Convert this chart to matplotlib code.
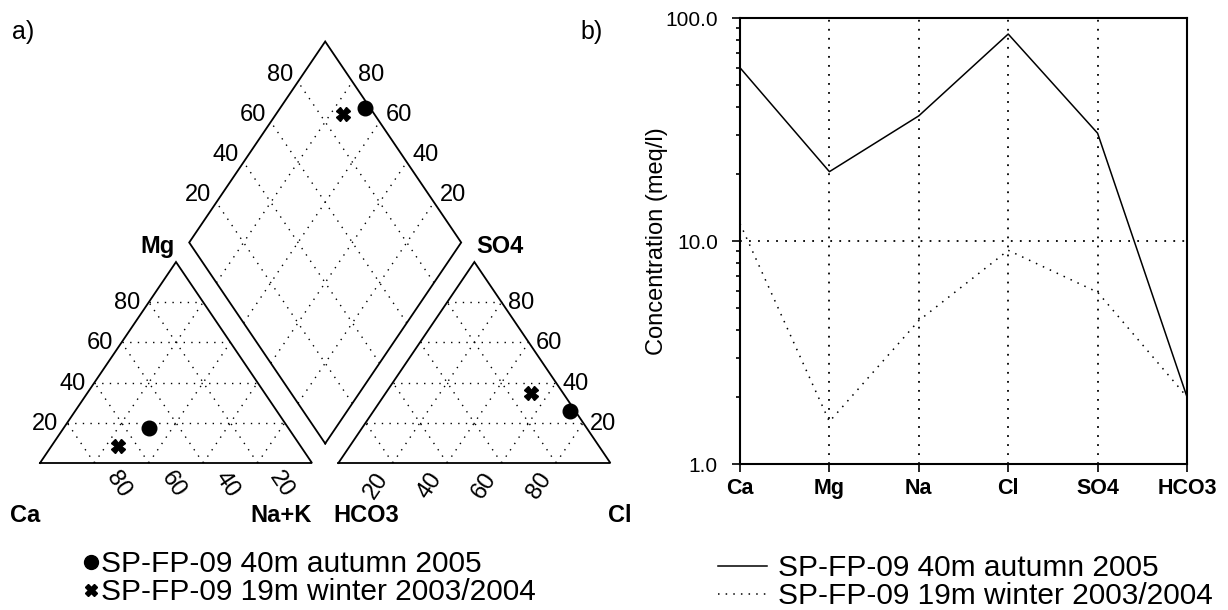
import numpy as np
import matplotlib
matplotlib.use("Agg")
import matplotlib.pyplot as plt
from matplotlib.lines import Line2D
from matplotlib.ticker import LogLocator, NullFormatter, FixedFormatter

plt.rcParams['font.family'] = ['Liberation Sans', 'DejaVu Sans']

# ---- data (meq/l) ----
ions = ["Ca", "Mg", "Na", "Cl", "SO4", "HCO3"]
autumn_2005 = [60.0, 20.5, 36.5, 85.0, 30.5, 2.0]
winter_2003 = [12.0, 1.55, 4.4, 9.1, 5.9, 2.0]
series_labels = ["SP-FP-09 40m autumn 2005", "SP-FP-09 19m winter 2003/2004"]
conc_ticks = [1.0, 10.0, 100.0]
tri_ticks = [20, 40, 60, 80]

W, H = 1228, 610
fig = plt.figure(figsize=(W / 100, H / 100), dpi=100)

# ---------------------------------------------------------------
# a) Piper diagram, model units: triangle side = 1, triangle height = 1
# ---------------------------------------------------------------
G = 0.097  # gap between the triangles and the diamond
ax = fig.add_axes([0, 0, 640 / W, 1])
ax.set_xlim(-40 / 272, 600 / 272)
ax.set_ylim(-147 / 201, 463 / 201)
ax.axis('off')

OX = 1 + G  # left corner of the anion triangle


def cation_xy(ca, mg, na):
    return na + 0.5 * mg, mg


def anion_xy(hco3, so4, cl):
    return OX + cl + 0.5 * so4, so4


def diamond_xy(na, hco3):
    t = 2 + G - na - hco3
    return na + 0.5 * t, t


outline = dict(color='black', lw=1.3, solid_joinstyle='miter', zorder=3)
grid_kw = dict(color='black', lw=1.0, linestyle=(0, (1, 4.5)), zorder=1)

# outlines
ax.plot([0, 1, 0.5, 0], [0, 0, 1, 0], **outline)
ax.plot([OX, OX + 1, OX + 0.5, OX], [0, 0, 1, 0], **outline)
B, R, T, L = diamond_xy(1, 1), diamond_xy(1, 0), diamond_xy(0, 0), diamond_xy(0, 1)
ax.plot([B[0], R[0], T[0], L[0], B[0]], [B[1], R[1], T[1], L[1], B[1]], **outline)

# grid lines
for t in tri_ticks:
    v = t / 100
    # cation triangle: Mg, Ca, Na
    ax.plot([0.5 * v, 1 - 0.5 * v], [v, v], **grid_kw)
    ax.plot([1 - v, 0.5 * (1 - v)], [0, 1 - v], **grid_kw)
    ax.plot([v, v + 0.5 * (1 - v)], [0, 1 - v], **grid_kw)
    # anion triangle: SO4, Cl, HCO3
    ax.plot([OX + 0.5 * v, OX + 1 - 0.5 * v], [v, v], **grid_kw)
    ax.plot([OX + v, OX + v + 0.5 * (1 - v)], [0, 1 - v], **grid_kw)
    ax.plot([OX + 1 - v, OX + 0.5 * (1 - v)], [0, 1 - v], **grid_kw)
    # diamond
    p0, p1 = diamond_xy(v, 1), diamond_xy(v, 0)
    ax.plot([p0[0], p1[0]], [p0[1], p1[1]], **grid_kw)
    p0, p1 = diamond_xy(1, v), diamond_xy(0, v)
    ax.plot([p0[0], p1[0]], [p0[1], p1[1]], **grid_kw)

# scale labels
num_kw = dict(textcoords='offset pixels', ha='center', va='center', fontsize=17)
for t in tri_ticks:
    v = t / 100
    ax.annotate(str(t), (0.5 * v, v), xytext=(-22, -1), **num_kw)            # Mg
    ax.annotate(str(t), (1 - v, 0), xytext=(24, -22), rotation=-56, **num_kw)  # Ca
    ax.annotate(str(t), (OX + v, 0), xytext=(-17, -23), rotation=56, **num_kw)  # Cl
    ax.annotate(str(t), (OX + 1 - 0.5 * v, v), xytext=(20, -1), **num_kw)      # SO4
    ax.annotate(str(t), diamond_xy(0, 1 - v), xytext=(-18, 7), **num_kw)       # SO4+Cl
    ax.annotate(str(t), diamond_xy(1 - v, 0), xytext=(19, 7), **num_kw)        # Ca+Mg

lab_kw = dict(fontsize=17, fontweight='bold', va='center')
y_corner = (463 - 516) / 201
ax.text(0, y_corner, "Ca", ha='right', **lab_kw)
ax.text(1, y_corner, "Na+K", ha='right', **lab_kw)
ax.text(OX - 0.02, y_corner, "HCO3", ha='left', **lab_kw)
ax.text(OX + 1 - 0.01, y_corner, "Cl", ha='left', **lab_kw)
ax.text(L[0] - 0.055, L[1] - 0.02, "Mg", ha='right', **lab_kw)
ax.text(R[0] + 0.055, R[1] - 0.02, "SO4", ha='left', **lab_kw)

# samples
markers = ['o', 'X']
msizes = [10.5, 10]
for vals, mk, ms in zip([autumn_2005, winter_2003], markers, msizes):
    ca, mg, na, cl, so4, hco3 = vals
    cat = ca + mg + na
    an = cl + so4 + hco3
    x1, y1 = cation_xy(ca / cat, mg / cat, na / cat)
    x2, y2 = anion_xy(hco3 / an, so4 / an, cl / an)
    x3, y3 = diamond_xy(na / cat, hco3 / an)
    ax.plot([x1, x2, x3], [y1, y2, y3], ls='none', marker=mk, ms=ms,
            color='black', zorder=5)

LEG_FS = 21.5
piper_handles = [Line2D([], [], ls='none', marker=m, ms=s, color='black')
                 for m, s in zip(markers, [10, 9])]
fig.legend(piper_handles, series_labels, loc='upper left',
           bbox_to_anchor=(85 / W, 1 - 550 / H), frameon=False, fontsize=LEG_FS,
           handlelength=0.4, handletextpad=0.15, labelspacing=0.0,
           borderpad=0, borderaxespad=0)

# ---------------------------------------------------------------
# b) Schoeller diagram
# ---------------------------------------------------------------
ax2 = fig.add_axes([740 / W, 1 - 464 / H, (1187 - 740) / W, (464 - 18.3) / H])
xpos = np.arange(len(ions))
dotted = (0, (1, 4))
l1, = ax2.plot(xpos, autumn_2005, color='black', lw=1.1, zorder=4)
l2, = ax2.plot(xpos, winter_2003, color='black', lw=1.1, linestyle=dotted, zorder=4)
ax2.set_yscale('log')
ax2.set_ylim(1, 100)
ax2.set_xlim(0, len(ions) - 1)
ax2.set_yticks(conc_ticks)
ax2.yaxis.set_major_formatter(FixedFormatter([f"{v:.1f}" for v in conc_ticks]))
ax2.yaxis.set_minor_locator(LogLocator(base=10, subs=np.arange(2, 10)))
ax2.yaxis.set_minor_formatter(NullFormatter())
ax2.set_xticks(xpos)
ax2.set_xticklabels(ions, fontweight='bold', fontsize=15.5)
ax2.tick_params(axis='y', which='major', labelsize=15, length=6, width=1.2,
                direction='out', pad=10)
ax2.tick_params(axis='y', which='minor', length=3, width=1.2, direction='out')
ax2.tick_params(axis='x', which='major', length=6, width=1.2, direction='out', pad=4)
for s in ax2.spines.values():
    s.set_linewidth(1.5)
ax2.grid(True, which='major', color='black', lw=1.3, linestyle=(0, (1, 4)))
ax2.set_axisbelow(True)
ax2.set_ylabel("Concentration (meq/l)", fontsize=17)
ax2.yaxis.set_label_coords(-0.16, 0.5)

fig.legend([l1, l2], series_labels, loc='upper left',
           bbox_to_anchor=(718 / W, 1 - 554 / H), frameon=False, fontsize=LEG_FS,
           handlelength=1.64, handletextpad=0.37, labelspacing=0.0,
           borderpad=0, borderaxespad=0)

fig.text(12 / W, 1 - 32 / H, "a)", fontsize=18, va='center', ha='left')
fig.text(580 / W, 1 - 32 / H, "b)", fontsize=18, va='center', ha='left')

fig.savefig("out.png", dpi=100)
